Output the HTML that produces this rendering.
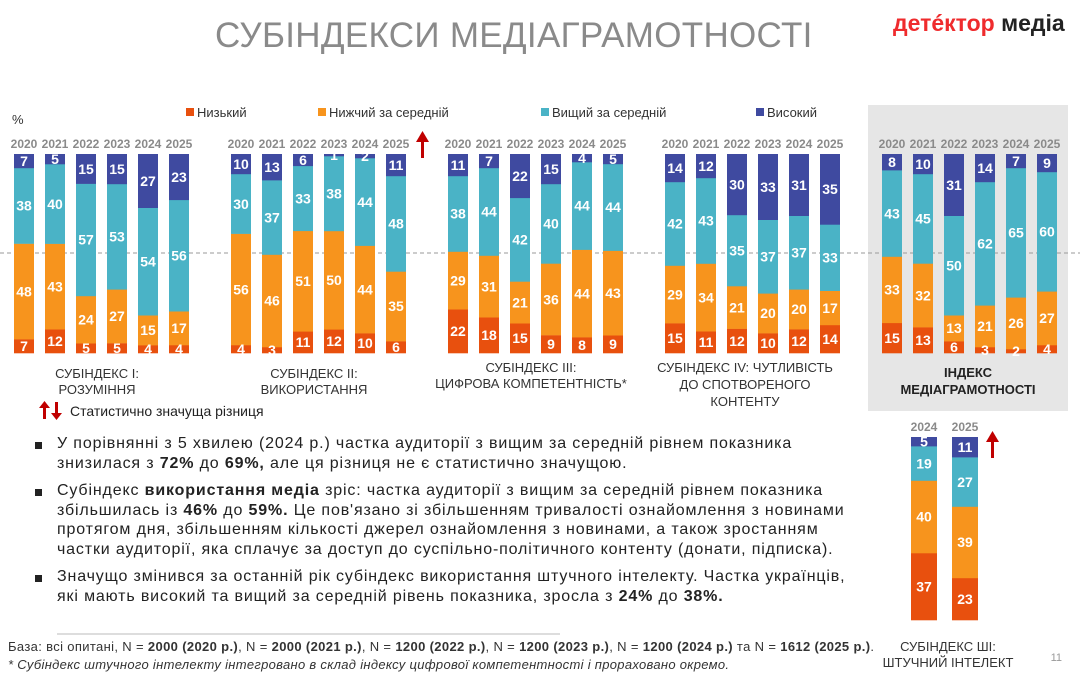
<!DOCTYPE html>
<html><head><meta charset="utf-8">
<style>
body{margin:0;width:1080px;height:678px;background:#fff;overflow:hidden;font-family:"Liberation Sans","DejaVu Sans",sans-serif;position:relative}
.t{position:absolute;white-space:nowrap}
.b{font-size:16px;color:#222;line-height:19.5px;letter-spacing:0.85px}
.b b{font-weight:bold}
.sq{position:absolute;width:7px;height:7px;background:#222}
</style></head><body>
<div class="t" style="left:215px;top:16px;font-size:35px;color:#8a8a8a;letter-spacing:0.3px">СУБІНДЕКСИ МЕДІАГРАМОТНОСТІ</div>
<div class="t" style="left:893px;top:10px;font-size:23px;font-weight:bold;color:#ef2b2d">детéктор <span style="color:#222">медіа</span></div>
<svg width="1080" height="678" style="position:absolute;left:0;top:0" id="s">
<rect x="868" y="105" width="200" height="306" fill="#e6e6e6"/>
<line x1="0" y1="253" x2="1080" y2="253" stroke="#999" stroke-dasharray="4,3" stroke-width="1"/>
<g font-size="13" fill="#333">
<rect x="186" y="108" width="8" height="8" fill="#e8500e"/><text x="197" y="117">Низький</text>
<rect x="318" y="108" width="8" height="8" fill="#f7941d"/><text x="329" y="117">Нижчий за середній</text>
<rect x="541" y="108" width="8" height="8" fill="#4ab3c6"/><text x="552" y="117">Вищий за середній</text>
<rect x="756" y="108" width="8" height="8" fill="#3f4aa0"/><text x="767" y="117">Високий</text>
<text x="12" y="124">%</text>
</g>
<g fill="#c00000">
<rect x="421" y="140" width="3" height="18"/><polygon points="416,142 422.5,131 429,142"/>
<rect x="991" y="440" width="3" height="18"/><polygon points="986,442 992.5,431 999,442"/>
<rect x="43" y="406" width="3" height="13"/><polygon points="39,408 44.5,401 50,408"/>
<rect x="55" y="402" width="3" height="13"/><polygon points="51,413 56.5,420 62,413"/>
</g>
<g font-size="13" fill="#333" text-anchor="middle">
<text x="97" y="378">СУБІНДЕКС І:</text><text x="97" y="394">РОЗУМІННЯ</text>
<text x="314" y="378">СУБІНДЕКС ІІ:</text><text x="314" y="394">ВИКОРИСТАННЯ</text>
<text x="531" y="372">СУБІНДЕКС ІІІ:</text><text x="531" y="388">ЦИФРОВА КОМПЕТЕНТНІСТЬ*</text>
<text x="745" y="372">СУБІНДЕКС IV: ЧУТЛИВІСТЬ</text><text x="745" y="389">ДО СПОТВОРЕНОГО</text><text x="745" y="406">КОНТЕНТУ</text>
<text x="968" y="377" font-weight="bold" fill="#222">ІНДЕКС</text><text x="968" y="394" font-weight="bold" fill="#222">МЕДІАГРАМОТНОСТІ</text>
<text x="948" y="651">СУБІНДЕКС ШІ:</text><text x="948" y="667">ШТУЧНИЙ ІНТЕЛЕКТ</text>
</g>
<text x="1062" y="661" font-size="11" fill="#999" text-anchor="end">11</text>
<line x1="57" y1="634" x2="560" y2="634" stroke="#bbb"/>
</svg>
<div class="t" style="left:70px;top:403px;font-size:14px;color:#222">Статистично значуща різниця</div>
<div class="sq" style="left:35px;top:442px"></div>
<div class="sq" style="left:35px;top:489px"></div>
<div class="sq" style="left:35px;top:575px"></div>
<div class="t b" style="left:57px;top:434px">У порівнянні з 5 хвилею (2024 р.) частка аудиторії з вищим за середній рівнем показника<br>знизилася з <b>72%</b> до <b>69%,</b> але ця різниця не є статистично значущою.</div>
<div class="t b" style="left:57px;top:481px">Субіндекс <b>використання медіа</b> зріс:  частка аудиторії з вищим за середній рівнем показника<br>збільшилась із <b>46%</b> до <b>59%.</b> Це пов'язано зі збільшенням тривалості ознайомлення з новинами<br>протягом дня, збільшенням кількості джерел ознайомлення з новинами, а також зростанням<br>частки аудиторії, яка сплачує за доступ до суспільно-політичного контенту (донати, підписка).</div>
<div class="t b" style="left:57px;top:567px">Значущо змінився за останній рік субіндекс використання штучного інтелекту.  Частка українців,<br>які мають високий та вищий за середній рівень показника, зросла з <b>24%</b> до <b>38%.</b></div>
<div class="t" style="left:8px;top:639px;font-size:13px;letter-spacing:0.35px;color:#333">База: всі опитані, N = <b>2000 (2020 р.)</b>, N = <b>2000 (2021 р.)</b>, N = <b>1200 (2022 р.)</b>, N = <b>1200 (2023 р.)</b>, N = <b>1200 (2024 р.)</b> та N = <b>1612 (2025 р.)</b>.</div>
<div class="t" style="left:8px;top:657px;font-size:13px;letter-spacing:0.3px;color:#333;font-style:italic">* Субіндекс штучного інтелекту інтегровано в склад індексу цифрової компетентності і прораховано окремо.</div>
<script>
var C=["#e8500e","#f7941d","#4ab3c6","#3f4aa0"];
var G=[
[14,[[7,48,38,7],[12,43,40,5],[5,24,57,15],[5,27,53,15],[4,15,54,27],[4,17,56,23]]],
[231,[[4,56,30,10],[3,46,37,13],[11,51,33,6],[12,50,38,1],[10,44,44,2],[6,35,48,11]]],
[448,[[22,29,38,11],[18,31,44,7],[15,21,42,22],[9,36,40,15],[8,44,44,4],[9,43,44,5]]],
[665,[[15,29,42,14],[11,34,43,12],[12,21,35,30],[10,20,37,33],[12,20,37,31],[14,17,33,35]]],
[882,[[15,33,43,8],[13,32,45,10],[6,13,50,31],[3,21,62,14],[2,26,65,7],[4,27,60,9]]]];
var Y=["2020","2021","2022","2023","2024","2025"];
var h="";
function bar(x,w,top,H,d,yr,yy){
 var s=d[0]+d[1]+d[2]+d[3],y=top+H;
 h+='<text x="'+(x+w/2)+'" y="'+yy+'" font-size="12" font-weight="bold" fill="#8a8a8a" text-anchor="middle">'+yr+'</text>';
 for(var i=0;i<4;i++){var sh=d[i]*H/s;y-=sh;
  h+='<rect x="'+x+'" y="'+y.toFixed(1)+'" width="'+w+'" height="'+(sh+0.3).toFixed(1)+'" fill="'+C[i]+'"/>';}
 y=top+H;
 for(var i=0;i<4;i++){var sh=d[i]*H/s;y-=sh;
  h+='<text x="'+(x+w/2)+'" y="'+(y+sh/2+5).toFixed(1)+'" font-size="14" font-weight="bold" fill="#fff" text-anchor="middle">'+d[i]+'</text>';}
}
G.forEach(function(g){g[1].forEach(function(d,j){bar(g[0]+j*31,20,154,199,d,Y[j],148);});});
bar(911,26,437,183,[37,40,19,5],"2024",431);
bar(952,26,437,183,[23,39,27,11],"2025",431);
document.getElementById("s").insertAdjacentHTML("beforeend",h);
</script>
</body></html>
